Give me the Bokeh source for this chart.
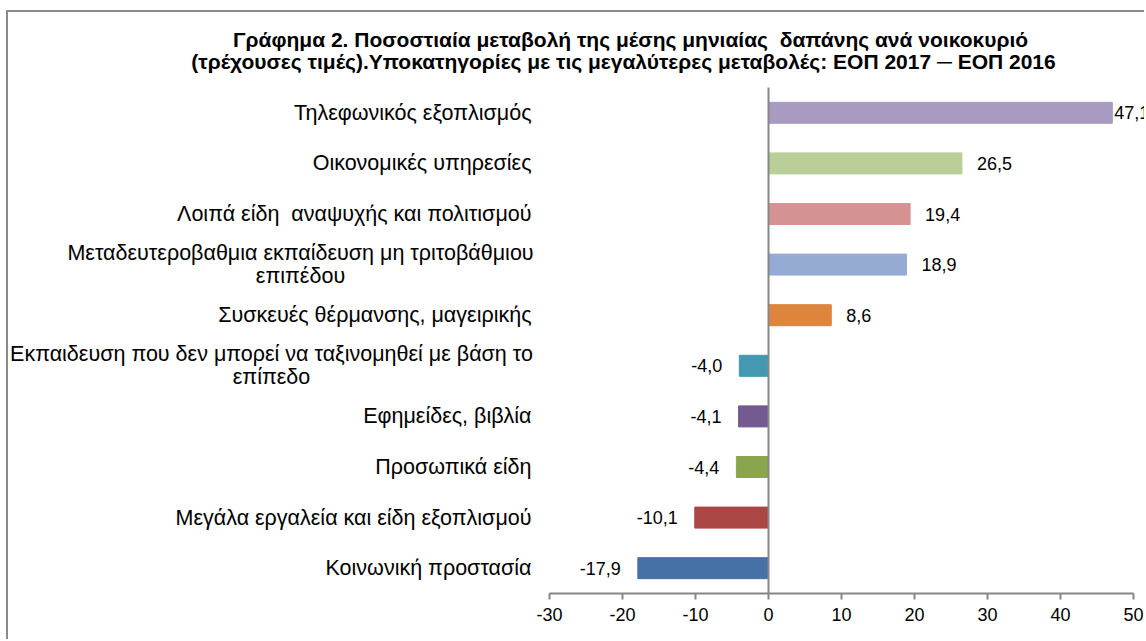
from bokeh.plotting import figure
from bokeh.models import ColumnDataSource, Range1d, Label, LabelSet, FixedTicker
from bokeh.core.properties import value
from bokeh.embed import file_html
from bokeh.resources import INLINE

# ---------------- data ----------------
categories = [
    "Τηλεφωνικός εξοπλισμός",
    "Οικονομικές υπηρεσίες",
    "Λοιπά είδη  αναψυχής και πολιτισμού",
    "Μεταδευτεροβαθμια εκπαίδευση μη τριτοβάθμιου\nεπιπέδου",
    "Συσκευές θέρμανσης, μαγειρικής",
    "Εκπαιδευση που δεν μπορεί να ταξινομηθεί με βάση το\nεπίπεδο",
    "Εφημείδες, βιβλία",
    "Προσωπικά είδη",
    "Μεγάλα εργαλεία και είδη εξοπλισμού",
    "Κοινωνική προστασία",
]
values = [47.1, 26.5, 19.4, 18.9, 8.6, -4.0, -4.1, -4.4, -10.1, -17.9]
colors = ["#A89AC0", "#B9CF97", "#D49292", "#95ABD3", "#DD843D",
          "#4399B0", "#735A91", "#8BA54E", "#AA4644", "#4571A6"]
x_ticks = [-30, -20, -10, 0, 10, 20, 30, 40, 50]
title_lines = [
    "Γράφημα 2. Ποσοστιαία μεταβολή της μέσης μηνιαίας  δαπάνης ανά νοικοκυριό",
    "(τρέχουσες τιμές).Υποκατηγορίες με τις μεγαλύτερες μεταβολές: ΕΟΠ 2017 ─ ΕΟΠ 2016",
]

# ---------------- layout (page pixels) ----------------
FONT = "Liberation Sans"
OX, OY = 8, 12                      # page position of figure content
W, H = 1146 - OX, 641 - OY          # figure size
AX_LEFT_PX, AX_RIGHT_PX = 549, 1133  # page x of first / last tick
PLOT_TOP_PX, PLOT_BOTTOM_PX = 87, 593
LABEL_RIGHT_PX = 531
CAT_SIZE = "21.5px"
NUM_SIZE = "18px"
TITLE_SIZE = "21px"
LINE_H = 23
WRAP_CENTER = {3: 300, 5: 271}      # page-x centre of wrapped category labels


def disp(s):
    # keep runs of spaces visible in SVG text
    return s.replace("  ", " \u00a0")


ppx = (AX_RIGHT_PX - AX_LEFT_PX) / (x_ticks[-1] - x_ticks[0])
x_start = x_ticks[0] - (AX_LEFT_PX - OX) / ppx
x_end = x_ticks[-1] + (OX + W - AX_RIGHT_PX) / ppx
n = len(categories)
ppy = (PLOT_BOTTOM_PX - PLOT_TOP_PX) / n
y_bottom = n - 0.5
y_top = -0.5 - (PLOT_TOP_PX - OY) / ppy


def page_x(px):
    return x_ticks[0] + (px - AX_LEFT_PX) / ppx


def page_y(py):
    return y_top + (py - OY) / ppy


idx = list(range(n))
labels = [f"{v:.1f}".replace(".", ",") for v in values]

src = ColumnDataSource(dict(y=idx, val=values, color=colors))

pos = [i for i in idx if values[i] >= 0]
neg = [i for i in idx if values[i] < 0]
pos_src = ColumnDataSource(dict(
    y=pos, val=[values[i] for i in pos], lab=[labels[i] for i in pos],
    off=[2 if values[i] > 40 else 15 for i in pos]))
neg_src = ColumnDataSource(dict(
    y=neg, val=[values[i] for i in neg], lab=[labels[i] for i in neg]))

# category labels, one row per text line
cy, ctext, calign, cxoff, cyoff = [], [], [], [], []
for i, cat in enumerate(categories):
    parts = cat.split("\n")
    k = len(parts)
    for j, part in enumerate(parts):
        cy.append(i)
        ctext.append(disp(part))
        if k > 1:
            calign.append("center")
            cxoff.append(WRAP_CENTER[i] - AX_LEFT_PX)
        else:
            calign.append("right")
            cxoff.append(LABEL_RIGHT_PX - AX_LEFT_PX)
        cyoff.append(-(j - (k - 1) / 2) * LINE_H)
cat_src = ColumnDataSource(dict(y=cy, x=[x_ticks[0]] * len(cy), text=ctext,
                                align=calign, xoff=cxoff, yoff=cyoff))

p = figure(width=W, height=H, output_backend="svg", toolbar_location=None,
           x_range=Range1d(x_start, x_end), y_range=Range1d(y_bottom, y_top),
           y_axis_location=None,
           min_border_left=0, min_border_right=0, min_border_top=0,
           min_border_bottom=641 - PLOT_BOTTOM_PX)
p.styles = {"margin-left": "6px", "margin-top": "10px",
            "border-left": "2px solid #8A8A8A", "border-top": "2px solid #8A8A8A"}

p.hbar(y="y", right="val", left=0, height=0.415, color="color", source=src)

p.xgrid.visible = False
p.ygrid.visible = False
p.outline_line_color = None

xa = p.xaxis[0]
xa.ticker = FixedTicker(ticks=x_ticks)
xa.bounds = (x_ticks[0], x_ticks[-1])
xa.major_label_overrides = {t: str(t) for t in x_ticks}
xa.axis_line_color = "#868686"
xa.axis_line_width = 2
xa.major_tick_line_color = "#868686"
xa.major_tick_line_width = 2
xa.major_tick_in = 0
xa.major_tick_out = 6
xa.minor_tick_line_color = None
xa.major_label_text_font = FONT
xa.major_label_text_font_size = NUM_SIZE
xa.major_label_text_color = "#000000"
xa.major_label_standoff = 8

# zero (category axis) line
p.segment(x0=0, x1=0, y0=-0.5, y1=n - 0.5, line_color="#868686", line_width=2)

p.add_layout(LabelSet(x="x", y="y", text="text", source=cat_src,
                      x_offset="xoff", y_offset="yoff",
                      text_align="align", text_baseline="middle",
                      text_font=value(FONT), text_font_size=value(CAT_SIZE),
                      text_color="#000000"))

p.add_layout(LabelSet(x="val", y="y", text="lab", source=pos_src, x_offset="off",
                      text_align="left", text_baseline="middle",
                      text_font=value(FONT), text_font_size=value(NUM_SIZE),
                      text_color="#000000"))
p.add_layout(LabelSet(x="val", y="y", text="lab", source=neg_src, x_offset=-17,
                      text_align="right", text_baseline="middle",
                      text_font=value(FONT), text_font_size=value(NUM_SIZE),
                      text_color="#000000"))

for line, tx, ty in zip(title_lines, [630, 623], [39, 61]):
    p.add_layout(Label(x=page_x(tx), y=page_y(ty), text=disp(line),
                       text_align="center", text_baseline="middle", text_font=FONT,
                       text_font_size=TITLE_SIZE, text_font_style="bold",
                       text_color="#000000"))

open("out.html", "w").write(file_html(p, INLINE))
